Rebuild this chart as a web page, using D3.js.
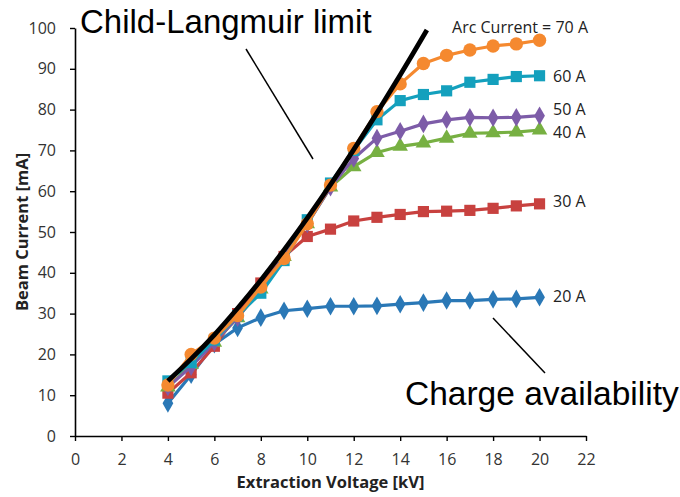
<!DOCTYPE html>
<html>
<head>
<meta charset="utf-8">
<script src="https://cdn.jsdelivr.net/npm/d3@7"></script>
<style>
  body { margin: 0; background: #fff; }
  svg { display: block; }
</style>
</head>
<body>
<div id="chart"></div>
<script>
// extraction voltage steps (kV)
const voltages = [4, 5, 6, 7, 8, 9, 10, 11, 12, 13, 14, 15, 16, 17, 18, 19, 20];

// beam current (mA) per arc current
const beam20 = [8, 15, 22.5, 26.5, 29, 30.7, 31.2, 31.8, 31.8, 31.9, 32.3, 32.7, 33.2, 33.2, 33.5, 33.6, 34];
const beam30 = [10.5, 15.5, 22, 30, 37.5, 44, 48.9, 50.7, 52.7, 53.6, 54.3, 55, 55.1, 55.3, 55.8, 56.4, 56.9];
const beam40 = [12, 17.5, 23, 29, 36, 44, 52, 61, 66, 69.5, 71, 71.8, 73, 74.2, 74.3, 74.5, 75];
const beam50 = [12, 17, 23, 29, 36, 44, 52, 61, 68, 73, 74.7, 76.5, 77.5, 78.1, 78, 78.1, 78.5];
const beam60 = [13.5, 18, 23.5, 29.5, 35, 43, 53, 62, 70, 77.5, 82.2, 83.7, 84.6, 86.7, 87.4, 88.1, 88.3];
const beam70 = [12.5, 20, 24, 29.5, 36.5, 43.5, 52, 61.5, 70.5, 79.5, 86.3, 91.3, 93.3, 94.6, 95.6, 96.1, 97];

// Child-Langmuir limit curve
const clVoltage = [4, 5, 6, 7, 8, 9, 10, 11, 12, 13, 14, 15.15];
const clCurrent = [13.5, 18.9, 24.8, 31.3, 38.2, 45.6, 53.4, 61.6, 70.2, 79.2, 88.5, 99.5];

const seriesNames = ["20 A", "30 A", "40 A", "50 A", "60 A", "Arc Current = 70 A"];
// where the end labels sit, in mA
const labelLevels = [34.3, 57.6, 74.3, 80.1, 88.2, 100.2];
const xTicks = [0, 2, 4, 6, 8, 10, 12, 14, 16, 18, 20, 22];
const yTicks = [0, 10, 20, 30, 40, 50, 60, 70, 80, 90, 100];

const width = 680, height = 497;
const margin = {left: 75, right: 94, top: 28, bottom: 61};

const series = [
    {values: beam20, color: "#2a78b6", shape: "diamond"},
    {values: beam30, color: "#c8413f", shape: "square"},
    {values: beam40, color: "#77b042", shape: "triangle"},
    {values: beam50, color: "#7d5ca8", shape: "diamond"},
    {values: beam60, color: "#14a0bd", shape: "square"},
    {values: beam70, color: "#f5892f", shape: "circle"}
].map((s, i) => ({...s, label: seriesNames[i], level: labelLevels[i]}));

const svg = d3.select("#chart").append("svg")
    .attr("width", width)
    .attr("height", height);

const x = d3.scaleLinear()
    .domain([0, 22])
    .range([margin.left, width - margin.right]);

const y = d3.scaleLinear()
    .domain([0, 100])
    .range([height - margin.bottom, margin.top]);

// axes
const xAxis = svg.append("g")
    .attr("transform", `translate(0,${y(0)})`)
    .call(d3.axisBottom(x).tickValues(xTicks).tickSize(5).tickSizeOuter(0));
const yAxis = svg.append("g")
    .attr("transform", `translate(${x(0)},0)`)
    .call(d3.axisLeft(y).tickValues(yTicks).tickSize(5).tickSizeOuter(0));

[xAxis, yAxis].forEach(ax => {
    ax.select(".domain").attr("stroke", "#000").attr("stroke-width", 1.6);
    ax.selectAll(".tick line").attr("stroke", "#000").attr("stroke-width", 1.4);
    ax.selectAll(".tick text")
        .attr("fill", "#333")
        .style("font-family", "'Open Sans', sans-serif")
        .style("font-size", "16px");
});
xAxis.selectAll(".tick text").attr("y", 15).attr("dy", "0.9em");
yAxis.selectAll(".tick text").attr("x", -19);

// axis titles
svg.append("text")
    .attr("x", x(11))
    .attr("y", 488)
    .attr("text-anchor", "middle")
    .attr("fill", "#222")
    .style("font-family", "'Open Sans', sans-serif")
    .style("font-weight", "bold")
    .style("font-size", "16.5px")
    .text("Extraction Voltage [kV]");

svg.append("text")
    .attr("transform", `translate(28,${y(50)}) rotate(-90)`)
    .attr("text-anchor", "middle")
    .attr("fill", "#222")
    .style("font-family", "'Open Sans', sans-serif")
    .style("font-weight", "bold")
    .style("font-size", "16.5px")
    .text("Beam Current [mA]");

// marker shapes
const symbolFor = {
    circle: d3.symbol().type(d3.symbolCircle).size(140),
    square: d3.symbol().type(d3.symbolSquare).size(125),
    diamond: d3.symbol().type(d3.symbolDiamond).size(100),
    triangle: d3.symbol().type(d3.symbolTriangle).size(105)
};

const line = d3.line()
    .x((d, i) => x(voltages[i]))
    .y(d => y(d));

series.forEach(s => {
    const g = svg.append("g").attr("class", "series");
    g.append("path")
        .attr("d", line(s.values))
        .attr("fill", "none")
        .attr("stroke", s.color)
        .attr("stroke-width", 3.2)
        .attr("stroke-linejoin", "round");
    g.selectAll("path.marker")
        .data(s.values)
        .join("path")
        .attr("class", "marker")
        .attr("transform", (d, i) => `translate(${x(voltages[i])},${y(d)})`)
        .attr("d", symbolFor[s.shape]())
        .attr("fill", s.color);
});

// Child-Langmuir curve on top
svg.append("path")
    .attr("d", d3.line().curve(d3.curveCatmullRom.alpha(0.5))
        .x((d, i) => x(clVoltage[i]))
        .y(d => y(d))(clCurrent))
    .attr("fill", "none")
    .attr("stroke", "#000")
    .attr("stroke-width", 4.8)
    .attr("stroke-linecap", "butt");

// series labels at the right end
series.forEach(s => {
    const isTop = s.label.startsWith("Arc");
    svg.append("text")
        .attr("x", isTop ? 588 : 553)
        .attr("y", y(s.level))
        .attr("dy", "0.35em")
        .attr("text-anchor", isTop ? "end" : "start")
        .attr("fill", "#222")
        .style("font-family", "'Open Sans', sans-serif")
        .style("font-size", "16px")
        .text(s.label);
});

// annotations
svg.append("text")
    .attr("x", 80)
    .attr("y", 33)
    .attr("fill", "#000")
    .style("font-family", "'Liberation Sans', Arial, sans-serif")
    .style("font-size", "33px")
    .text("Child-Langmuir limit");
svg.append("line")
    .attr("x1", 246).attr("y1", 49)
    .attr("x2", 313).attr("y2", 159)
    .attr("stroke", "#000").attr("stroke-width", 1.5);

svg.append("text")
    .attr("x", 405)
    .attr("y", 405)
    .attr("fill", "#000")
    .style("font-family", "'Liberation Sans', Arial, sans-serif")
    .style("font-size", "33.5px")
    .text("Charge availability");
svg.append("line")
    .attr("x1", 493).attr("y1", 318)
    .attr("x2", 545).attr("y2", 373)
    .attr("stroke", "#000").attr("stroke-width", 1.5);
</script>
</body>
</html>
